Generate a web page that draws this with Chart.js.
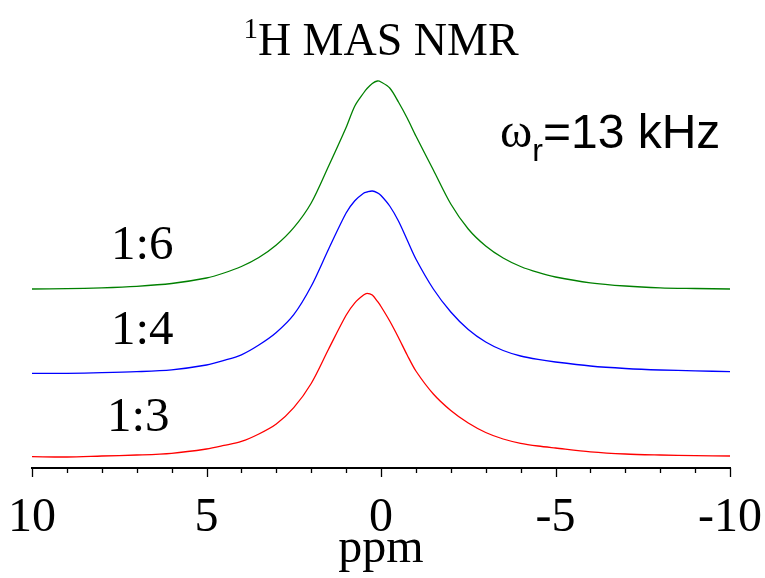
<!DOCTYPE html>
<html>
<head>
<meta charset="utf-8">
<script src="https://cdn.jsdelivr.net/npm/chart.js@4.4.1/dist/chart.umd.min.js"></script>
<style>
  html, body { margin: 0; padding: 0; background: #fff; }
  #wrap { width: 765px; height: 578px; }
</style>
</head>
<body>
<div id="wrap"><canvas id="nmr" width="765" height="578"></canvas></div>
<script>
// eixo químico (ppm) e intensidades (unidades arbitrárias, já deslocadas)
const ppm = [10, 9, 8, 7, 6, 5, 4.5, 4, 3.5, 3, 2.5, 2, 1.5, 1, 0.75, 0.5, 0.4, 0.25, 0.1, 0,
  -0.25, -0.5, -0.75, -1, -1.5, -2, -2.5, -3, -3.5, -4, -4.5, -5, -6, -7, -8, -9, -10];

const ratio16 = [44.75, 44.83, 45.05, 45.43, 46.13, 47.5, 48.75, 50.38, 52.63, 55.75, 60.08, 66.25, 75.5, 85.13, 90.5, 93.75, 94.88, 96.13, 96.75, 96.5,
  95, 91.5, 87.5, 83, 74.5, 66, 59.75, 55.5, 52.5, 50.38, 48.88, 47.75, 46.3, 45.5, 45.05, 44.88, 44.75];

const ratio14 = [23.68, 23.68, 23.83, 24.08, 24.55, 25.75, 26.88, 28.3, 30.75, 33.88, 38.33, 45.43, 54.75, 63.75, 66.8, 68.7, 69, 69.25, 68.8, 68.13,
  65.5, 61.75, 57, 52.25, 44.75, 39, 34.63, 31.5, 29.38, 28, 27.13, 26.5, 25.5, 24.88, 24.5, 24.3, 24.08];

const ratio13 = [2.83, 2.75, 3, 3.25, 3.68, 4.75, 5.63, 6.63, 8.5, 11, 15.08, 21.13, 29.75, 38.18, 41.3, 43.25, 43.68, 43.25, 41.63, 40.38,
  36.75, 32.63, 28.25, 24.25, 18.5, 14.38, 11.25, 8.88, 7.25, 6.18, 5.5, 5, 4.05, 3.5, 3.25, 3.08, 3];

const seriesLabels = ['1:6', '1:4', '1:3'];
const seriesColors = ['#008000', '#0000ff', '#ff0000'];
const majorTicks = [10, 5, 0, -5, -10];

const SERIF = '"Liberation Serif", "Times New Roman", serif';
const SANS = '"Liberation Sans", Arial, sans-serif';

function toPoints(values) {
    return ppm.map((p, i) => ({ x: p, y: values[i] }));
}

// Ticks menores, título e anotações
const annotations = {
    id: 'annotations',
    afterDraw(chart) {
        const ctx = chart.ctx;
        const xs = chart.scales.x;
        const base = chart.chartArea.bottom;
        ctx.save();
        ctx.strokeStyle = '#000';
        ctx.lineWidth = 1.3;
        for (let v = 10; v >= -10; v--) {
            const px = Math.round(xs.getPixelForValue(v)) + 0.5;
            const len = (v % 5 === 0) ? 9 : 5;
            ctx.beginPath();
            ctx.moveTo(px, base);
            ctx.lineTo(px, base + len);
            ctx.stroke();
        }

        // título com sobrescrito
        ctx.fillStyle = '#000';
        ctx.textBaseline = 'alphabetic';
        ctx.font = '46px ' + SERIF;
        const main = 'H MAS NMR';
        const wMain = ctx.measureText(main).width;
        ctx.font = '29px ' + SERIF;
        const wSup = ctx.measureText('1').width;
        const startX = 381 - (wMain + wSup) / 2;
        ctx.fillText('1', startX, 38);
        ctx.font = '46px ' + SERIF;
        ctx.fillText(main, startX + wSup, 55);

        // ω_r = 13 kHz
        let x = 500;
        ctx.font = '49px ' + SERIF;
        ctx.fillText('ω', x, 147);
        x += ctx.measureText('ω').width;
        ctx.font = '32px ' + SANS;
        ctx.fillText('r', x, 161);
        x += ctx.measureText('r').width;
        ctx.font = '48px ' + SANS;
        ctx.fillText('=13 kHz', x, 148);

        // rótulos das séries
        ctx.font = '49px ' + SERIF;
        const labelPos = [[111, 259], [111, 344], [107, 431]];
        seriesLabels.forEach((t, i) => ctx.fillText(t, labelPos[i][0], labelPos[i][1]));
        ctx.restore();
    }
};

new Chart(document.getElementById('nmr'), {
    type: 'scatter',
    data: {
        datasets: [ratio16, ratio14, ratio13].map((vals, i) => ({
            label: seriesLabels[i],
            data: toPoints(vals),
            showLine: true,
            borderColor: seriesColors[i],
            borderWidth: 1.3,
            pointRadius: 0,
            tension: 0.3,
            fill: false
        }))
    },
    options: {
        responsive: false,
        animation: false,
        layout: { padding: { left: 32, right: 35, top: 68, bottom: 0 } },
        plugins: {
            legend: { display: false },
            tooltip: { enabled: false },
            title: { display: false }
        },
        scales: {
            x: {
                type: 'linear',
                reverse: true,
                min: -10,
                max: 10,
                afterFit: (scale) => {
                    scale.height = 110;
                    scale.paddingLeft = 0;
                    scale.paddingRight = 0;
                },
                afterBuildTicks: (scale) => {
                    scale.ticks = majorTicks.map(v => ({ value: v }));
                },
                grid: { display: false, drawTicks: false },
                border: { display: true, color: '#000', width: 2 },
                ticks: {
                    color: '#000',
                    padding: 22,
                    maxRotation: 0,
                    autoSkip: false,
                    font: { family: SERIF, size: 48 }
                },
                title: {
                    display: true,
                    text: 'ppm',
                    color: '#000',
                    padding: { top: 10, bottom: 0 },
                    font: { family: SERIF, size: 48 }
                }
            },
            y: {
                display: false,
                min: 0,
                max: 100
            }
        }
    },
    plugins: [annotations]
});
</script>
</body>
</html>
